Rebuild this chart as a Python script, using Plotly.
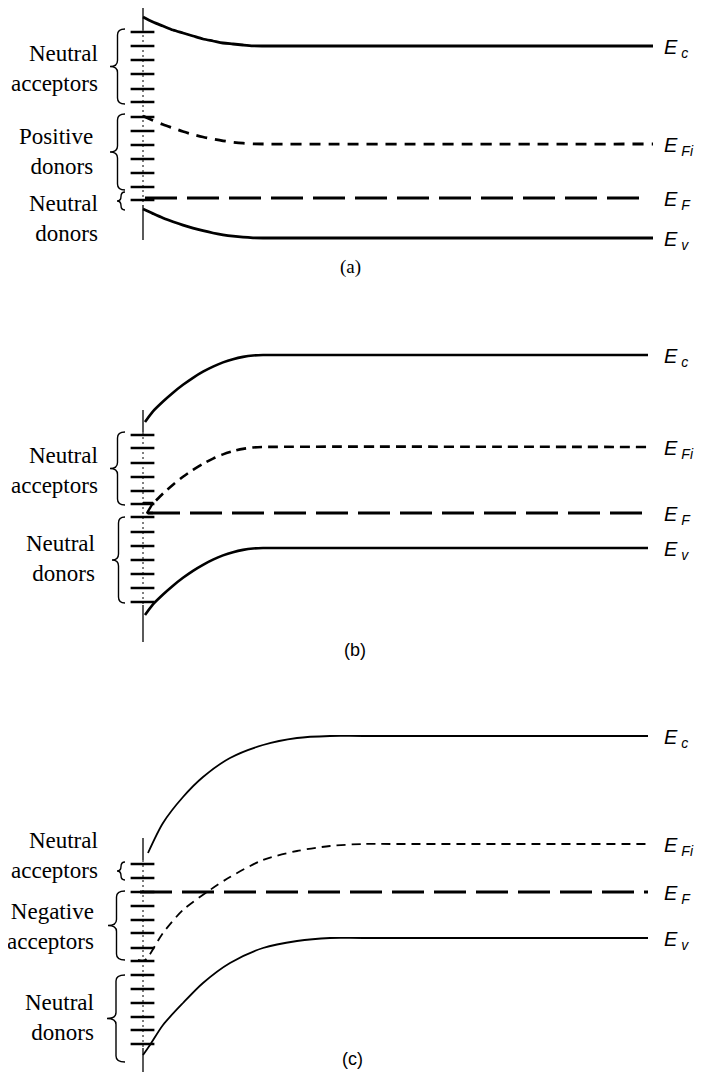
import plotly.graph_objects as go

# The page body has an 8 px margin, so the figure is drawn 8 px smaller and all
# reference pixel positions are shifted by that offset.
OFF = 8
W, H = 702 - OFF, 1074 - OFF

# ---------------- data (x: distance from surface, E: energy, arbitrary units; E = 0 at bulk Ev) -------------
# Panel (a)
a_x = [0, 2, 4, 6, 8, 10, 12, 14, 16, 18, 20, 22, 24, 102]
a_ec_E = [22.1, 21.6, 21.2, 20.8, 20.5, 20.2, 19.9, 19.7, 19.5, 19.4, 19.3, 19.22, 19.2, 19.2]
a_efi_E = [12.2, 11.75, 11.35, 11.0, 10.65, 10.35, 10.1, 9.9, 9.72, 9.58, 9.48, 9.42, 9.4, 9.4]
a_ev_E = [2.9, 2.44, 2.0, 1.63, 1.29, 0.99, 0.73, 0.5, 0.32, 0.18, 0.08, 0.02, 0.0, 0.0]
a_ef_x = [0.4, 99.4]
a_ef_E = [4.0, 4.0]
a_ticks = [20.6, 19.2, 17.8, 16.4, 14.9, 13.6, 12.1, 10.7, 9.3, 7.9, 6.5, 5.1, 3.8]
a_surface = [23.3, 20.8, 3.3, -0.2]          # solid top, dotted middle, solid bottom
# (label, brace top, brace bottom, label centre)
a_groups = [("Neutral<br>acceptors", 20.9, 13.4, 17.0), ("Positive<br>donors", 12.4, 4.8, 8.7),
            ("Neutral<br>donors", 4.6, 2.8, 2.0)]

# Panel (b)
b_x = [0.4, 2, 4, 6, 8, 10, 12, 14, 16, 18, 20, 22, 24, 101]
b_ec_E = [12.6, 13.67, 14.65, 15.53, 16.32, 17.02, 17.63, 18.14, 18.56, 18.88, 19.11, 19.25, 19.3, 19.3]
b_ev_E = [-6.7, -5.63, -4.65, -3.77, -2.98, -2.28, -1.68, -1.16, -0.74, -0.42, -0.19, -0.05, 0.0, 0.0]
b_efi_x = [2.6, 4, 6, 8, 10, 12, 14, 16, 18, 20, 22, 24, 101.4]
b_efi_E = [4.75, 5.45, 6.33, 7.12, 7.82, 8.43, 8.94, 9.36, 9.68, 9.91, 10.05, 10.1, 10.1]
b_ef_x = [1.0, 100.4]
b_ef_E = [3.5, 3.5]
b_ef_kink_x = [0, 2.0, 0.8, 2.0]
b_ef_kink_E = [4.5, 4.5, 3.5, 3.5]
b_ticks = [11.3, 10.0, 8.5, 7.1, 5.7, 4.4, 3.1, 1.6, 0.2, -1.2, -2.6, -4.0, -5.4]
b_surface = [13.8, 11.6, -5.7, -9.4]
b_groups = [("Neutral<br>acceptors", 11.6, 4.3, 7.8), ("Neutral<br>donors", 3.1, -5.5, -1.0)]

# Panel (c)
c_ec_x = [1, 4, 8, 12, 17.4, 24, 30.8, 37.4, 44, 101]
c_ec_E = [8.5, 11.5, 14.1, 16.1, 18.0, 19.3, 20.0, 20.2, 20.2, 20.2]
c_efi_x = [-1, 0.4, 4, 8, 13.4, 17.4, 24, 30.8, 37.4, 44, 50, 101.4]
c_efi_E = [-2.2, -2.2, 0.5, 2.8, 4.8, 6.1, 7.8, 8.7, 9.2, 9.4, 9.4, 9.4]
c_ef_x = [-0.6, 101.0]
c_ef_E = [4.6, 4.6]
c_ev_x = [0, 1.4, 4, 8, 12, 17.4, 24, 30.8, 37.4, 44, 101]
c_ev_E = [-11.7, -10.7, -8.7, -6.5, -4.5, -2.5, -1.0, -0.3, 0.0, 0.0, 0.0]
c_ticks = [7.4, 6.0, 4.6, 3.2, 1.8, 0.5, -1.0, -2.3, -3.7, -5.1, -6.5, -7.9, -9.2, -10.6]
c_surface = [10.0, 7.8, -11.0, -13.4]
c_groups = [("Neutral<br>acceptors", 7.6, 5.8, 8.3), ("Negative<br>acceptors", 4.7, -2.2, 1.2),
            ("Neutral<br>donors", -3.7, -12.4, -7.9)]

level_labels = ["<i>E</i>\u2009<sub><i>c</i></sub>", "<i>E</i>\u2009<sub><i>Fi</i></sub>",
                "<i>E</i>\u2009<sub><i>F</i></sub>", "<i>E</i>\u2009<sub><i>v</i></sub>"]
captions = ["(a)", "(b)", "(c)"]

# ---------------- layout helpers -------------
# panel extents in reference pixels (top, bottom) and pixel row of bulk Ev (E = 0); 10 px per unit
panels = {
    "y":  dict(top=OFF, bot=290,  ev=238),
    "y2": dict(top=290, bot=670,  ev=548),
    "y3": dict(top=670, bot=1074, ev=938),
}
PX_PER_E = 10.0
PX_PER_X = 5.0
X0_PX = 143  # reference pixel column of the surface
XMIN = (OFF - X0_PX) / PX_PER_X
XMAX = (702 - X0_PX) / PX_PER_X

fig = go.Figure()


def line(x, y, ax, width, dash="solid", shape="spline"):
    fig.add_trace(go.Scatter(x=x, y=y, yaxis=ax, xaxis="x", mode="lines",
                             line=dict(color="black", width=width, dash=dash, shape=shape,
                                       smoothing=0.8),
                             hoverinfo="skip", showlegend=False))


def surface(ax, seg, ticks):
    line([0, 0], [seg[0], seg[1]], ax, 1.3, shape="linear")
    line([0, 0], [seg[1], seg[2]], ax, 1.0, dash="2px,3px", shape="linear")
    line([0, 0], [seg[2], seg[3]], ax, 1.3, shape="linear")
    fig.add_trace(go.Scatter(x=[-0.1] * len(ticks), y=ticks, yaxis=ax, xaxis="x", mode="markers",
                             marker=dict(symbol="line-ew", size=17, color="black",
                                         line=dict(width=2.5, color="black")),
                             hoverinfo="skip", showlegend=False))


def brace(ax, ytop, ybot, x_end, x_tip):
    xb = (x_end + x_tip) / 2.0
    ym = (ytop + ybot) / 2.0
    r = min(0.6, (ytop - ybot) / 4.0)
    p = (f"M {x_end},{ytop} Q {xb},{ytop} {xb},{ytop - r} L {xb},{ym + r} "
         f"Q {xb},{ym} {x_tip},{ym} Q {xb},{ym} {xb},{ym - r} L {xb},{ybot + r} "
         f"Q {xb},{ybot} {x_end},{ybot}")
    fig.add_shape(type="path", path=p, xref="x", yref=ax,
                  line=dict(color="black", width=1.4))


def group_labels(ax, groups, label_x_list, tip_list):
    for (txt, yt, yb, yl), lx, tip in zip(groups, label_x_list, tip_list):
        brace(ax, yt, yb, -3.6, tip)
        fig.add_annotation(x=lx, y=yl, xref="x", yref=ax, text=txt,
                           showarrow=False, xanchor="right", yanchor="middle", align="right",
                           font=dict(family="Liberation Serif", size=23, color="black"))


def level_texts(ax, values):
    for lab, v in zip(level_labels, values):
        fig.add_annotation(x=103.8, y=v - 0.25, xref="x", yref=ax, text=lab, showarrow=False,
                           xanchor="left", yanchor="middle",
                           font=dict(family="Liberation Sans", size=20, color="black"))


# ---------------- panel (a) -------------
line(a_x, a_ec_E, "y", 2.8)
line(a_x, a_efi_E, "y", 2.8, dash="11px,8px")
line(a_ef_x, a_ef_E, "y", 3.2, dash="32px,10px", shape="linear")
line(a_x, a_ev_E, "y", 2.8)
surface("y", a_surface, a_ticks)
group_labels("y", a_groups, [-8.6, -9.6, -8.6], [-6.6, -6.6, -5.2])
level_texts("y", [a_ec_E[-1], a_efi_E[-1], a_ef_E[-1], a_ev_E[-1]])
fig.add_annotation(x=41.4, y=-2.9, xref="x", yref="y", text=captions[0], showarrow=False,
                   font=dict(family="Liberation Serif", size=19, color="black"))

# ---------------- panel (b) -------------
line(b_x, b_ec_E, "y2", 2.6)
line(b_efi_x, b_efi_E, "y2", 2.6, dash="10px,6px")
line(b_ef_x, b_ef_E, "y2", 3.2, dash="32px,10px", shape="linear")
line(b_ef_kink_x, b_ef_kink_E, "y2", 2.4, shape="linear")
line(b_x, b_ev_E, "y2", 2.6)
surface("y2", b_surface, b_ticks)
group_labels("y2", b_groups, [-8.6, -9.2], [-6.6, -6.2])
level_texts("y2", [b_ec_E[-1], b_efi_E[-1], b_ef_E[-1], b_ev_E[-1]])
fig.add_annotation(x=42.4, y=-10.2, xref="x", yref="y2", text=captions[1], showarrow=False,
                   font=dict(family="Liberation Sans", size=18, color="black"))

# ---------------- panel (c) -------------
line(c_ec_x, c_ec_E, "y3", 1.8)
line(c_efi_x, c_efi_E, "y3", 1.8, dash="9px,6px")
line(c_ef_x, c_ef_E, "y3", 3.2, dash="32px,10px", shape="linear")
line(c_ev_x, c_ev_E, "y3", 1.8)
surface("y3", c_surface, c_ticks)
group_labels("y3", c_groups, [-8.6, -9.4, -9.4], [-5.2, -7.0, -7.2])
level_texts("y3", [c_ec_E[-1], c_efi_E[-1], c_ef_E[-1], c_ev_E[-1]])
fig.add_annotation(x=41.8, y=-12.1, xref="x", yref="y3", text=captions[2], showarrow=False,
                   font=dict(family="Liberation Sans", size=18, color="black"))

# ---------------- axes -------------
axes = {}
for name, p in panels.items():
    key = "yaxis" if name == "y" else "yaxis" + name[1:]
    axes[key] = dict(domain=[max(0.0, 1 - (p["bot"] - OFF) / H), min(1.0, 1 - (p["top"] - OFF) / H)],
                     range=[(p["ev"] - p["bot"]) / PX_PER_E, (p["ev"] - p["top"]) / PX_PER_E],
                     visible=False, fixedrange=True, anchor="x")

fig.update_layout(
    width=W, height=H, autosize=False,
    margin=dict(l=0, r=0, t=0, b=0),
    paper_bgcolor="white", plot_bgcolor="white",
    xaxis=dict(range=[XMIN, XMAX], domain=[0, 1], visible=False, fixedrange=True),
    **axes,
)

fig.write_html("out.html")
